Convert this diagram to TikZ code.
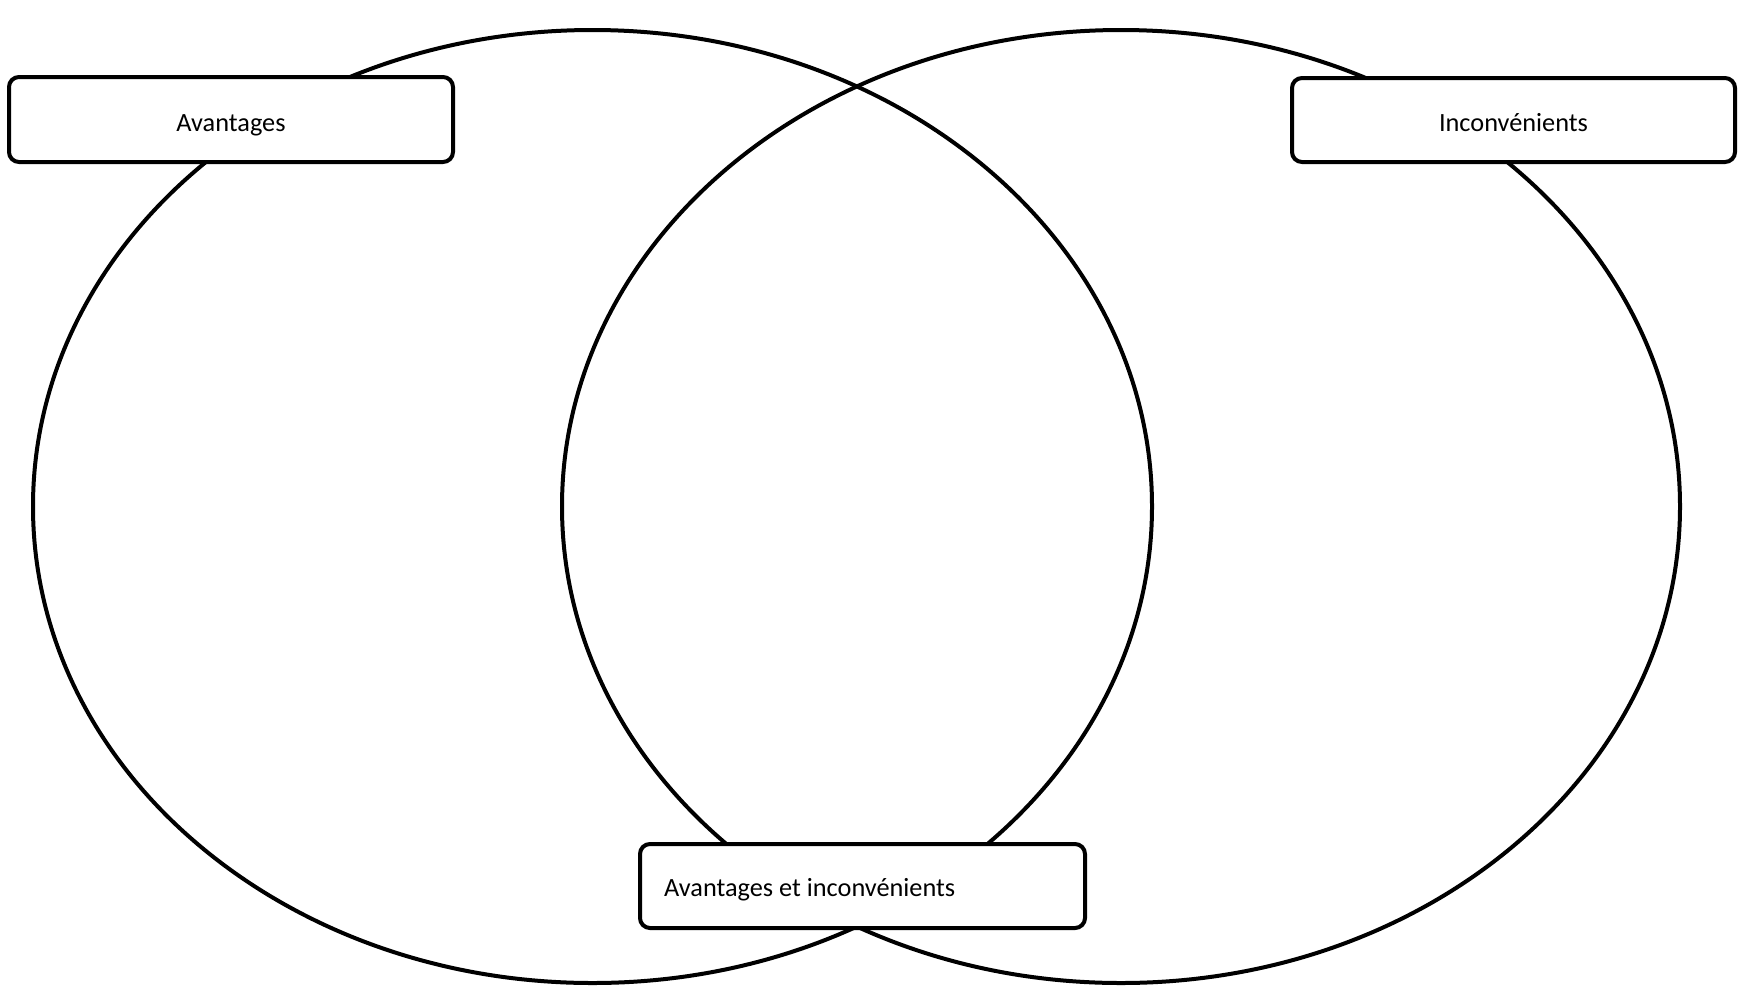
\documentclass[tikz,border=0pt]{standalone}
\usepackage{fontspec}
\setmainfont{Carlito}
\begin{document}
\begin{tikzpicture}[x=1pt,y=-1pt,
  ring/.style={draw=black,line width=4pt},
  labelbox/.style={draw=black,line width=4pt,fill=white,rounded corners=10pt},
  lbl/.style={font=\fontsize{26.3}{30}\selectfont,text=black,inner sep=0pt}]
\useasboundingbox (0,0) rectangle (1738,989);
\fill[white] (0,0) rectangle (1738,989);
\draw[ring] (592.5,506.5) ellipse [x radius=559.5, y radius=476.5];
\draw[ring] (1121,506.5) ellipse [x radius=559, y radius=476.5];
\draw[labelbox] (9,77) rectangle (453,162);
\node[lbl,anchor=base] (avantages) at (231,131) {Avantages};
\draw[labelbox] (1292,78) rectangle (1735,162);
\node[lbl,anchor=base] (inconv) at (1513.5,131) {Inconvénients};
\draw[labelbox] (640,844) rectangle (1085,928);
\node[lbl,anchor=base west] (both) at (664,896) {Avantages et inconvénients};
\end{tikzpicture}
\end{document}
